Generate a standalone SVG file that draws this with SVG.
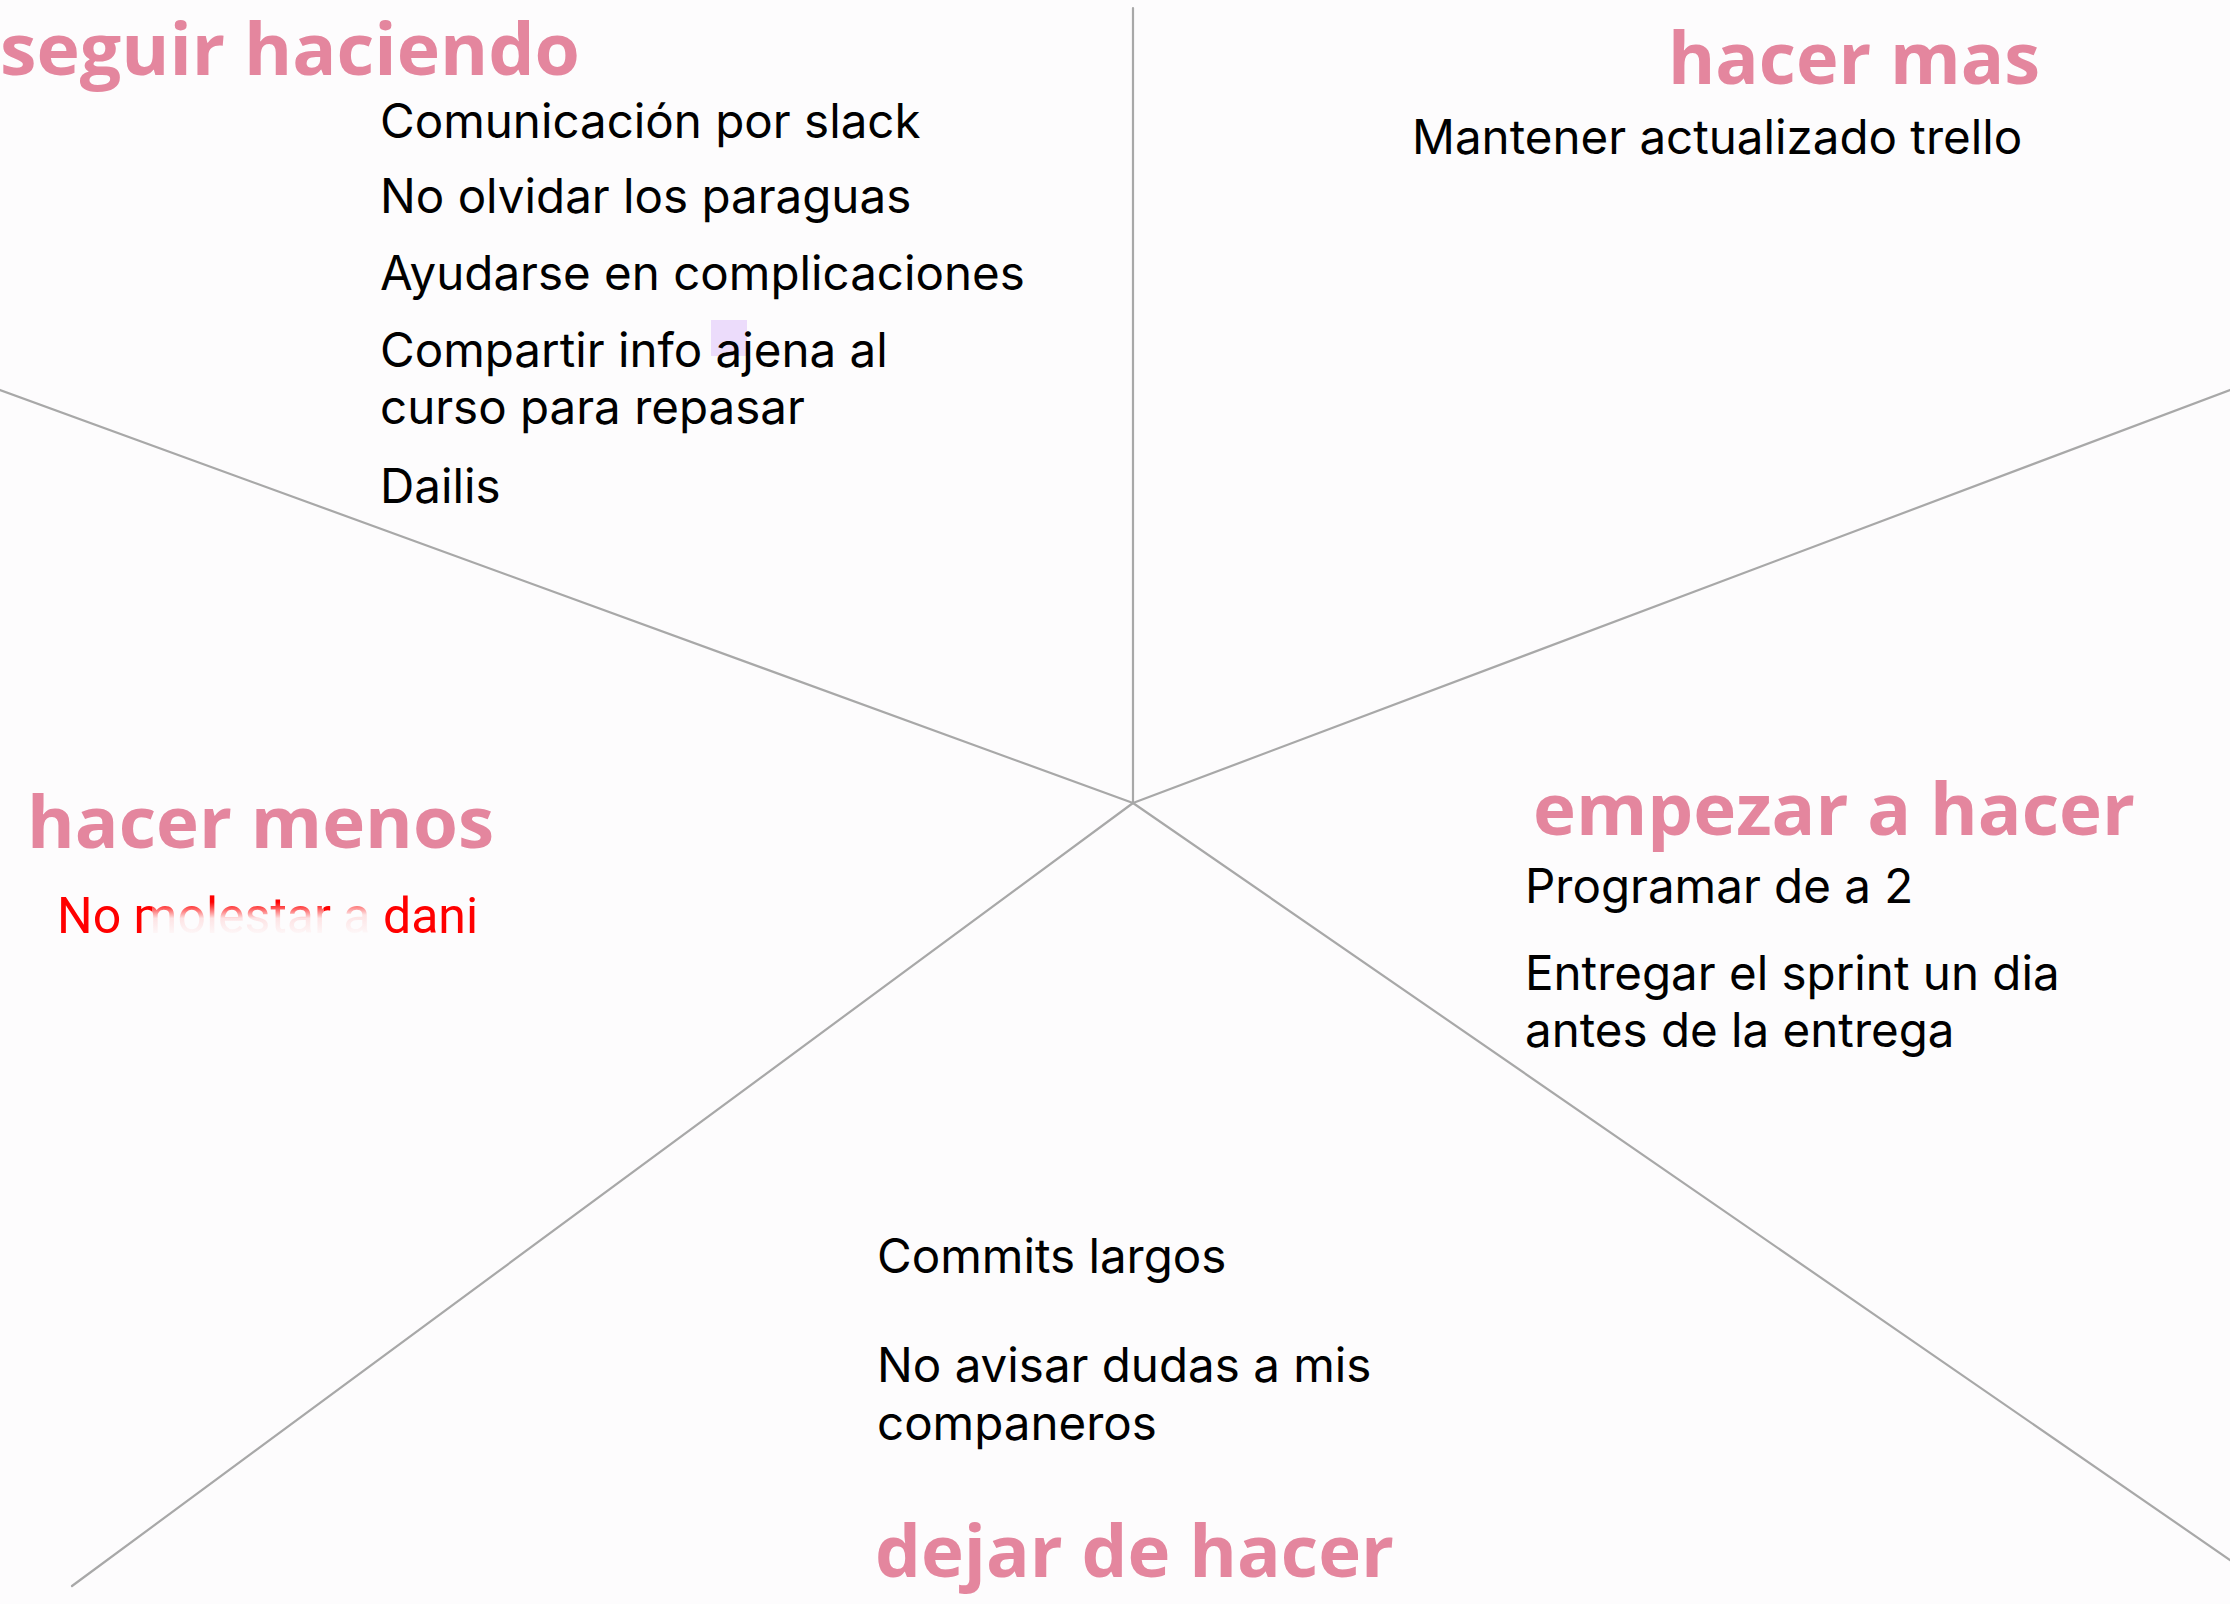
<svg xmlns="http://www.w3.org/2000/svg" width="2230" height="1604" viewBox="0 0 2230 1604">
<defs>
<style>
.bg{fill:#fdfcfd}
.ln{stroke:#a8a8a8;stroke-width:2.2;fill:none;stroke-linecap:round}
.hd{font-family:"Open Sans","Noto Sans",sans-serif;font-weight:700;font-size:71px;fill:#e4869e}
.tx{font-family:Inter,"Noto Sans",sans-serif;font-size:47.5px;fill:#000}
.rd{font-family:Roboto,"Liberation Sans",sans-serif;font-size:50px;fill:#ff0000}
</style>
<linearGradient id="fade" x1="0" y1="0" x2="0" y2="1">
<stop offset="0" stop-color="#fdfcfd" stop-opacity="0"/>
<stop offset="0.45" stop-color="#fdfcfd" stop-opacity="0.9"/>
<stop offset="1" stop-color="#fdfcfd" stop-opacity="1"/>
</linearGradient>
</defs>
<rect class="bg" x="0" y="0" width="2230" height="1604"/>
<g id="connectors">
<line class="ln" x1="1133" y1="8" x2="1133" y2="803"/>
<line class="ln" x1="0" y1="390" x2="1133" y2="803"/>
<line class="ln" x1="2230" y1="390" x2="1133" y2="803"/>
<line class="ln" x1="72" y1="1586" x2="1133" y2="803"/>
<line class="ln" x1="2230" y1="1560" x2="1133" y2="803"/>
</g>
<g id="seguir-haciendo">
<text class="hd" x="0" y="75" textLength="580" lengthAdjust="spacingAndGlyphs">seguir haciendo</text>
<rect x="711" y="320" width="36" height="36" fill="#ecdcfb"/>
<text class="tx" x="380" y="138">Comunicación por slack</text>
<text class="tx" x="380" y="213">No olvidar los paraguas</text>
<text class="tx" x="380" y="290">Ayudarse en complicaciones</text>
<text class="tx" x="380" y="367">Compartir info ajena al</text>
<text class="tx" x="380" y="424">curso para repasar</text>
<text class="tx" x="380" y="503">Dailis</text>
</g>
<g id="hacer-mas">
<text class="hd" x="1668" y="84" textLength="372" lengthAdjust="spacingAndGlyphs">hacer mas</text>
<text class="tx" x="1412" y="154">Mantener actualizado trello</text>
</g>
<g id="hacer-menos">
<text class="hd" x="27" y="848" textLength="467" lengthAdjust="spacingAndGlyphs">hacer menos</text>
<text class="rd" x="57" y="933">No molestar a dani</text>
<rect x="152" y="902" width="172" height="36" fill="url(#fade)"/>
<rect x="342" y="896" width="30" height="42" fill="url(#fade)"/>
</g>
<g id="empezar-a-hacer">
<text class="hd" x="1533" y="835" textLength="602" lengthAdjust="spacingAndGlyphs">empezar a hacer</text>
<text class="tx" x="1525" y="903">Programar de a 2</text>
<text class="tx" x="1525" y="990">Entregar el sprint un dia</text>
<text class="tx" x="1525" y="1047">antes de la entrega</text>
</g>
<g id="dejar-de-hacer">
<text class="hd" x="875" y="1577" textLength="519" lengthAdjust="spacingAndGlyphs">dejar de hacer</text>
<text class="tx" x="877" y="1273">Commits largos</text>
<text class="tx" x="877" y="1382">No avisar dudas a mis</text>
<text class="tx" x="877" y="1440">companeros</text>
</g>
</svg>
